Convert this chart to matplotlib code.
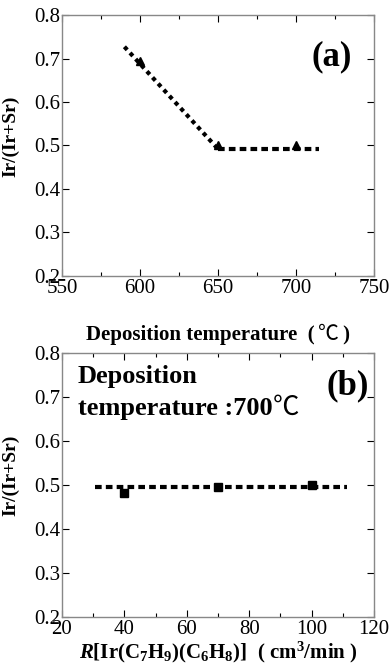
import matplotlib
matplotlib.use("Agg")
import matplotlib.pyplot as plt
from matplotlib.ticker import MultipleLocator

# Panel (a) data
temp_pts = [600, 650, 700]
ratio_a = [0.695, 0.502, 0.500]
fit_a_x = [590, 650, 715]
fit_a_y = [0.727, 0.492, 0.492]

# Panel (b) data
flow_pts = [40, 70, 100]
ratio_b = [0.482, 0.495, 0.500]
fit_b_x = [30.5, 111.5]
fit_b_y = [0.496, 0.496]

yticks = [0.2, 0.3, 0.4, 0.5, 0.6, 0.7, 0.8]
ytick_labels = ['0.2', '0.3', '0.4', '0.5', '0.6', '0.7', '0.8']

SERIF = ['Liberation Serif', 'Noto Sans CJK JP', 'DejaVu Sans']
plt.rcParams['font.family'] = SERIF
plt.rcParams['mathtext.fontset'] = 'custom'
plt.rcParams['mathtext.rm'] = 'Liberation Serif:bold'
plt.rcParams['mathtext.it'] = 'Liberation Serif:italic:bold'
plt.rcParams['mathtext.bf'] = 'Liberation Serif:bold'

fig = plt.figure(figsize=(3.92, 6.67), dpi=100)
W, H = 392, 667
ax1 = fig.add_axes([62 / W, 1 - 276 / H, (374 - 62) / W, (276 - 15) / H])
ax2 = fig.add_axes([62 / W, 1 - 617 / H, (374 - 62) / W, (617 - 353) / H])

def style(ax):
    ax.tick_params(which='both', direction='in', top=True, right=True, labelsize=15)
    ax.tick_params(axis='y', pad=1)
    ax.tick_params(axis='x', pad=2)
    ax.tick_params(which='major', length=5, width=0.8)
    ax.tick_params(which='minor', length=3, width=0.8)
    for s in ax.spines.values():
        s.set_color('#888888')
        s.set_linewidth(1.0)
    ax.set_ylim(0.2, 0.8)
    ax.set_yticks(yticks)
    ax.set_yticklabels(ytick_labels)
    ax.set_ylabel('Ir/(Ir+Sr)', fontsize=14, fontweight='bold', labelpad=6)
    ax.yaxis.set_label_coords(-0.135, 0.535)

# (a)
ax1.plot(fit_a_x[:2], fit_a_y[:2], color='black', linestyle=(0, (1, 1)), linewidth=3.0)
ax1.plot(fit_a_x[1:], fit_a_y[1:], color='black', linestyle=(0, (1.6, 1.0)), linewidth=3.0)
ax1.plot(temp_pts, ratio_a, linestyle='none', marker='^', color='black', markersize=5.5)
ax1.set_xlim(550, 750)
ax1.xaxis.set_major_locator(MultipleLocator(50))
ax1.xaxis.set_minor_locator(MultipleLocator(25))
style(ax1)
ax1.text(0.93, 0.84, '(a)', transform=ax1.transAxes, ha='right', va='center',
         fontsize=25, fontweight='bold')

# (b)
ax2.plot(fit_b_x, fit_b_y, color='black', linestyle=(0, (1.6, 1.0)), linewidth=3.0)
ax2.plot(flow_pts, ratio_b, linestyle='none', marker='s', color='black', markersize=5.5)
ax2.set_xlim(20, 120)
ax2.xaxis.set_major_locator(MultipleLocator(20))
ax2.xaxis.set_minor_locator(MultipleLocator(10))
style(ax2)
ax2.set_xlabel(r'$R$[Ir(C$_7$H$_9$)(C$_6$H$_8$)]  ( cm$^3$/min )', fontsize=15,
               fontweight='bold', labelpad=1)
ax2.text(0.985, 0.875, '(b)', transform=ax2.transAxes, ha='right', va='center',
         fontsize=25, fontweight='bold')

fig.canvas.draw()
renderer = fig.canvas.get_renderer()

def place_pieces(pieces, x_px, y_px, center=False, size=15):
    """Draw text pieces one after another on one baseline (pixel coords from top-left)."""
    texts = []
    widths = []
    for s, weight in pieces:
        t = fig.text(0, 0, s, fontsize=size, fontweight=weight, ha='left', va='baseline')
        widths.append(t.get_window_extent(renderer).width)
        texts.append(t)
    total = sum(widths)
    x = x_px - total / 2 if center else x_px
    for t, w in zip(texts, widths):
        t.set_position((x / W, 1 - y_px / H))
        x += w

# (a) x label, with a non-bold degree sign as in the reference
place_pieces([('Deposition temperature\u2002(\u2009', 'bold'), ('\u2103', 'normal'),
              ('\u2009)', 'bold')], 218, 340, center=True, size=15)

# (b) annotation
fig.text(78 / W, 1 - 383 / H, 'Deposition', fontsize=19, fontweight='bold',
         ha='left', va='baseline')
place_pieces([('temperature :700', 'bold'), ('\u2103', 'normal')], 78, 415, size=19)

fig.savefig('out.png', dpi=100)
